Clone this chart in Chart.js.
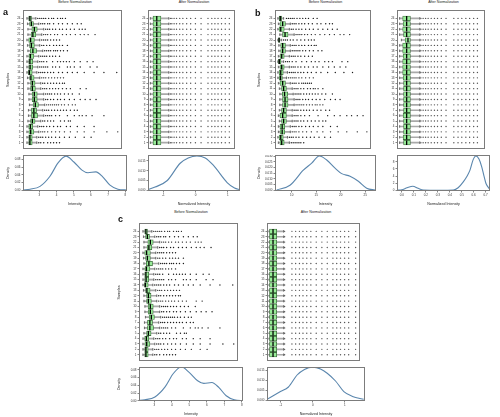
<!DOCTYPE html>
<html>
<head>
<meta charset="utf-8">
<script src="https://cdn.jsdelivr.net/npm/chart.js@4.4.1/dist/chart.umd.min.js"></script>
<style>
  body { margin: 0; width: 500px; height: 417px; background: #fff; position: relative; overflow: hidden; font-family: "Liberation Sans", Arial, sans-serif; }
  canvas { position: absolute; }
  .ttl { position: absolute; font-size: 3.6px; line-height: 4px; text-align: center; color: #222; white-space: nowrap; }
  .tag { position: absolute; font-size: 9px; line-height: 9px; font-weight: bold; color: #111; }
</style>
</head>
<body>
<script>
// ---- data ----
const samples = [1, 2, 3, 4, 5, 6, 7, 8, 9, 10, 11, 12, 13, 14, 15, 16, 17, 18, 19, 20, 21, 22, 23, 24];

// Panel a / c, before normalization (box x axis in % of panel width)
const aBeforeQ1  = [5.8, 5.8, 6, 5.8, 7.7, 8.6, 8.6, 10.3, 9.3, 9.3, 7.7, 7.7, 6.7, 5.5, 5.8, 5.8, 6, 7.4, 6.7, 5.8, 8.3, 9, 6.7, 5.8];
const aBeforeMed = [7, 7, 7.8, 7.5, 9.5, 11, 11, 12.5, 11.5, 11.5, 9.5, 9.5, 8, 6.5, 7.2, 7, 7.5, 10, 8.5, 7.7, 10, 11.5, 8.5, 7];
const aBeforeQ3  = [9.3, 9.3, 11, 9.9, 12.2, 14.7, 13.7, 15.6, 14.4, 14.4, 12.5, 12.2, 11.2, 9.3, 9.9, 9.9, 11, 13.7, 11.5, 11.5, 13, 14.4, 10.6, 8.6];
const aBeforeLo  = [4, 4, 4, 4, 5, 5.5, 5.5, 6.5, 6, 6, 5, 5, 4.5, 4, 4, 4, 4, 5, 4.5, 4, 5, 5, 4.5, 4];
const aBeforeHi  = [14, 14, 16, 15, 18, 21, 20, 22, 21, 21, 18, 18, 17, 14, 15, 15, 16, 20, 17, 17, 19, 21, 16, 13];
const aBeforeOut = [
  [16, 18, 21, 25, 28, 31, 34, 37],
  [16, 18, 20, 23, 26, 29, 33, 37, 42, 47, 53, 62, 69],
  [18, 20, 22, 25, 29, 33, 37, 42, 48, 55, 62, 72, 85, 96],
  [17, 19, 21, 24, 27, 31, 35, 38, 44, 48, 55, 62, 72],
  [20, 22, 25, 28, 31, 38, 42, 46, 48],
  [23, 25, 27, 29, 33, 37, 45, 52, 57, 60, 64, 70, 82],
  [22, 24, 26, 29, 32, 35, 38, 41, 44, 48, 52, 55],
  [24, 26, 28, 30, 32, 34, 36, 39, 42, 46, 50, 53],
  [23, 25, 28, 31, 35, 38, 42, 47, 52, 58, 63, 68, 74],
  [23, 25, 27, 29, 32, 35, 38, 42, 46, 50, 57],
  [20, 22, 24, 27, 30, 33, 36, 40, 44, 48, 58, 64],
  [20, 22, 25, 28, 31, 34, 37, 40, 42],
  [19, 21, 23, 26, 29, 32, 35, 38, 41],
  [16, 18, 20, 22, 25, 28, 31, 36, 40, 45, 50, 55, 62, 72, 82, 95],
  [17, 19, 21, 23, 25, 30, 33, 37, 45, 48, 52, 58, 68, 75],
  [17, 19, 21, 24, 30, 35, 38, 41, 44, 47, 52, 58, 65, 71],
  [18, 20, 22, 24, 27, 30, 33, 37],
  [22, 24, 26, 28, 31, 33, 35, 38, 41, 45],
  [19, 21, 24, 27, 31, 34, 37, 40, 45],
  [19, 21, 23, 25, 28, 31, 34, 37],
  [21, 23, 25, 28, 32, 35, 40, 44, 48, 53, 58, 62, 66, 73],
  [23, 25, 27, 30, 33, 37, 40, 44, 48, 52, 57, 60, 63],
  [18, 20, 22, 25, 27, 31, 36, 40, 45, 50, 55, 59],
  [15, 17, 19, 21, 23, 26, 29, 31, 35, 38, 40, 43]
];

// Panel b, before normalization
const bBeforeQ1  = [5.2, 4.3, 5.2, 5.2, 6.9, 5.2, 6.9, 7.9, 7.9, 7.6, 6.9, 5.2, 4.3, 4.3, 5.2, 3.6, 5.2, 6, 6, 3.6, 7.9, 4.3, 5.2, 4.3];
const bBeforeMed = [7, 6, 7.5, 7.5, 9, 8, 9, 10.5, 10.5, 10, 9, 8, 5.8, 6, 7, 4.5, 7, 8, 8, 4.3, 10.5, 6, 8, 5.5];
const bBeforeQ3  = [9.6, 8.6, 10.2, 10.2, 11.9, 11.9, 11.9, 13.6, 13.6, 13.3, 11.9, 10.9, 7.7, 8.6, 9.6, 6.2, 9.6, 10.9, 10.9, 5.2, 13.6, 9.6, 10.9, 6.9];
const bBeforeLo  = [3.5, 3, 3.5, 3.5, 4.5, 3.5, 4.5, 5, 5, 5, 4.5, 3.5, 3, 3, 3.5, 3, 3.5, 4, 4, 3, 5, 3, 3.5, 3];
const bBeforeHi  = [15, 13, 16, 16, 18, 18, 18, 20, 20, 19, 18, 16, 12, 13, 15, 9, 15, 16, 16, 7, 20, 15, 16, 9];
const bBeforeOut = [
  [17, 19, 21, 23, 25, 27, 30],
  [15, 17, 19, 22, 25, 29, 33, 37, 41, 46, 52, 58],
  [18, 20, 22, 25, 29, 33, 38, 44, 50, 58, 66, 75, 86, 96],
  [18, 20, 22, 25, 28, 32, 36, 40, 45, 50, 58, 65],
  [20, 22, 24, 27, 30, 34, 38, 42, 46, 50, 53],
  [20, 22, 24, 27, 31, 36, 45, 55, 62, 68, 75, 80, 86, 92],
  [20, 22, 24, 27, 30, 33, 36, 40, 44, 48, 53, 57],
  [22, 24, 26, 28, 30, 33, 36, 39, 42, 44, 47, 50],
  [22, 24, 26, 29, 32, 35, 39, 43, 47, 52, 58, 63, 68],
  [21, 23, 25, 27, 30, 33, 36, 39, 42, 45, 49, 53, 60],
  [20, 22, 24, 27, 30, 34, 37, 40, 42, 45, 50],
  [18, 20, 22, 25, 28, 30, 32, 34, 36, 38],
  [14, 16, 18, 20, 22, 25, 28, 32, 36, 40],
  [15, 17, 19, 21, 24, 27, 30, 34, 38, 43, 48, 55, 63, 72, 81],
  [17, 19, 21, 24, 27, 31, 35, 40, 44, 50, 56, 62, 68, 74],
  [11, 13, 15, 18, 22, 28, 33, 38, 42, 46, 52, 56, 60, 70, 76],
  [17, 19, 21, 24, 27, 31, 35, 39],
  [18, 20, 22, 24, 26, 29, 32, 36, 40, 45, 49],
  [18, 20, 22, 25, 28, 31, 35, 38, 41, 43],
  [9, 11, 13, 16, 19, 23, 27, 31, 35, 38, 41],
  [22, 24, 26, 28, 31, 34, 38, 42, 47, 52, 57, 62, 68, 72, 78],
  [17, 19, 22, 25, 28, 32, 36, 40, 45, 50, 55, 60, 65],
  [18, 20, 22, 25, 28, 31, 35, 39, 44, 48, 53, 57, 60],
  [12, 14, 16, 18, 20, 23, 26, 29, 32, 35, 40, 44]
];

// After normalization boxes (every sample looks alike)
const aAfterQ1  = [5.8, 5.8, 5.8, 5.8, 5.8, 5.8, 5.8, 5.8, 5.8, 5.8, 5.8, 5.8, 5.8, 5.8, 5.8, 5.8, 5.8, 5.8, 5.8, 5.8, 5.8, 5.8, 5.8, 5.8];
const aAfterMed = [10.1, 10.1, 10.1, 10.1, 10.1, 10.1, 10.1, 10.1, 10.1, 10.1, 10.1, 10.1, 10.1, 10.1, 10.1, 10.1, 10.1, 10.1, 10.1, 10.1, 10.1, 10.1, 10.1, 10.1];
const aAfterQ3  = [14.9, 14.9, 14.9, 14.9, 14.9, 14.9, 14.9, 14.9, 14.9, 14.9, 14.9, 14.9, 14.9, 14.9, 14.9, 14.9, 14.9, 14.9, 14.9, 14.9, 14.9, 14.9, 14.9, 14.9];
const aAfterLo  = [2.7, 2.7, 2.7, 2.7, 2.7, 2.7, 2.7, 2.7, 2.7, 2.7, 2.7, 2.7, 2.7, 2.7, 2.7, 2.7, 2.7, 2.7, 2.7, 2.7, 2.7, 2.7, 2.7, 2.7];
const aAfterHi  = [24, 24, 24, 24, 24, 24, 24, 24, 24, 24, 24, 24, 24, 24, 24, 24, 24, 24, 24, 24, 24, 24, 24, 24];
const aAfterCols = [25.8, 27.5, 30.1, 32.9, 36.6, 40.2, 44.6, 49.2, 54.7, 61.2, 69.2, 73.6, 77.2, 80.8, 84.8, 89.1, 93.8];

const bAfterQ1  = [7.5, 7, 7.5, 7.5, 7.5, 7, 7.5, 7.5, 7.5, 7.5, 7.5, 7.5, 7, 6.5, 6.5, 6.5, 7, 6.5, 6.5, 9.3, 7.5, 6.5, 7, 6.5];
const bAfterMed = [11, 11, 11, 11, 11, 11, 11, 11, 11, 11, 11, 11, 11, 11, 11, 11, 11, 11, 11, 12.5, 11, 11, 11, 11];
const bAfterQ3  = [15.3, 15.3, 15.3, 15.3, 15.3, 15.3, 15.3, 15.3, 15.3, 15.3, 15.3, 15.3, 15.3, 15.3, 15.3, 15.3, 15.3, 15.3, 15.3, 15.3, 15.3, 15.3, 15.3, 15.3];
const bAfterLo  = [3, 3, 3, 3, 3, 3, 3, 3, 3, 3, 3, 3, 3, 3, 3, 3, 3, 3, 3, 5, 3, 3, 3, 3];
const bAfterHi  = [26, 26, 26, 26, 26, 26, 26, 26, 26, 26, 26, 26, 26, 26, 26, 26, 26, 26, 26, 26, 26, 26, 26, 26];
const bAfterCols = [27.2, 29.8, 32.6, 35.5, 39, 42.7, 46.2, 50.5, 55.9, 64.8, 69.6, 73.9, 78.5, 82.8, 87.4, 91.7];

const cAfterQ1  = [2.7, 2.7, 2.7, 2.7, 2.7, 2.7, 2.7, 2.7, 2.7, 2.7, 2.7, 2.7, 2.7, 2.7, 2.7, 2.7, 2.7, 2.7, 2.7, 2.7, 2.7, 2.7, 2.7, 2.7];
const cAfterMed = [6.5, 6.5, 6.5, 6.5, 6.5, 6.5, 6.5, 6.5, 6.5, 6.5, 6.5, 6.5, 6.5, 6.5, 6.5, 6.5, 6.5, 6.5, 6.5, 6.5, 6.5, 6.5, 6.5, 6.5];
const cAfterQ3  = [10.5, 10.5, 10.5, 10.5, 10.5, 10.5, 10.5, 10.5, 10.5, 10.5, 10.5, 10.5, 10.5, 10.5, 10.5, 10.5, 10.5, 10.5, 10.5, 10.5, 10.5, 10.5, 10.5, 10.5];
const cAfterLo  = [0.4, 0.4, 0.4, 0.4, 0.4, 0.4, 0.4, 0.4, 0.4, 0.4, 0.4, 0.4, 0.4, 0.4, 0.4, 0.4, 0.4, 0.4, 0.4, 0.4, 0.4, 0.4, 0.4, 0.4];
const cAfterHi  = [18, 18, 18, 18, 18, 18, 18, 18, 18, 18, 18, 18, 18, 18, 18, 18, 18, 18, 18, 18, 18, 18, 18, 18];
const cAfterCols = [19, 26.9, 30.9, 35, 38.8, 42.9, 47.3, 53.1, 59.2, 65, 71.1, 75.2, 79.3, 83.7, 88.1, 95.6];

// Density curves
const aDensX = [2.05, 2.46, 3.04, 3.62, 4.08, 4.55, 5.01, 5.48, 5.83, 6.29, 6.70, 7.11, 7.57, 8.1];
const aDensY = [0.0005, 0.0026, 0.010, 0.036, 0.070, 0.088, 0.073, 0.052, 0.045, 0.0475, 0.034, 0.013, 0.0026, 0.0005];
const aDensXTicks = [3, 4, 5, 6, 7, 8];
const aDensYTicks = [0, 0.02, 0.04, 0.06, 0.08];

const aNormX = [-1.48, -1.26, -0.89, -0.48, -0.23, 0.04, 0.30, 0.55, 0.98, 1.21, 1.38];
const aNormY = [0.0004, 0.0017, 0.0049, 0.0138, 0.0165, 0.0175, 0.0165, 0.0128, 0.0040, 0.0012, 0.0003];
const normXTicks = [-1, 0, 1];
const normYTicks = [0, 0.005, 0.010, 0.015];

const bDensX = [6.94, 9.65, 12.37, 14.08, 15.63, 17.14, 18.84, 20.2, 21.9, 23.6, 25.3, 27.0];
const bDensY = [0.0003, 0.0044, 0.0176, 0.0238, 0.0300, 0.0265, 0.0194, 0.0146, 0.0123, 0.0079, 0.0018, 0.0002];
const bDensXTicks = [10, 15, 20, 25];
const bDensYTicks = [0, 0.005, 0.010, 0.015, 0.020, 0.025, 0.030];

const bNormX = [-0.04, 0, 0.044, 0.092, 0.136, 0.18, 0.32, 0.43, 0.47, 0.513, 0.544, 0.569, 0.594, 0.619, 0.644, 0.667, 0.686, 0.7025, 0.736];
const bNormY = [0.0, 0.14, 0.7, 1.13, 0.56, 0.08, 0.03, 0.08, 0.7, 2.34, 3.95, 5.65, 8.47, 9.6, 8.76, 6.58, 3.95, 1.9, 0.2];
const bNormXTicks = [0, 0.1, 0.2, 0.3, 0.4, 0.5, 0.6, 0.7];
const bNormYTicks = [0, 2, 4, 6, 8];

const cNormX = [-1.43, -1.01, -0.76, -0.49, -0.26, 0, 0.24, 0.45, 0.71, 0.97, 1.24, 1.59];
const cNormY = [0.00035, 0.0042, 0.0065, 0.0125, 0.0153, 0.0164, 0.0155, 0.0134, 0.0095, 0.0042, 0.0018, 0.00035];

// ---- drawing ----
Chart.defaults.font.family = '"Liberation Sans", Arial, sans-serif';
Chart.defaults.color = '#333';
const XH = 16;

const framePlugin = {
  id: 'frame',
  afterDraw(chart) {
    const { ctx, chartArea: a } = chart;
    ctx.save();
    ctx.strokeStyle = '#7c7c7c';
    ctx.lineWidth = 1;
    ctx.strokeRect(Math.round(a.left) + 0.5, Math.round(a.top) + 0.5, Math.round(a.width) - 1, Math.round(a.height) - 1);
    ctx.restore();
  }
};

function addCanvas(x, y, w, h) {
  const c = document.createElement('canvas');
  c.width = w; c.height = h;
  c.style.left = x + 'px'; c.style.top = y + 'px';
  c.style.width = w + 'px'; c.style.height = h + 'px';
  document.body.appendChild(c);
  return c;
}

function addText(cls, text, x, y, w) {
  const d = document.createElement('div');
  d.className = cls;
  d.textContent = text;
  d.style.left = x + 'px'; d.style.top = y + 'px';
  if (w) d.style.width = w + 'px';
  document.body.appendChild(d);
}

function fixedTicks(list) {
  return s => { s.ticks = list.map(v => ({ value: v })); };
}

function boxChart(p) {
  const b = p.box;
  const w = p.right - p.left;
  const cv = addCanvas(p.left - p.lw, p.top, p.lw + w, p.mid - p.top);
  const outPts = [];
  samples.forEach((s, i) => (b.cols || b.out[i]).forEach(v => outPts.push({ x: v, y: s })));
  new Chart(cv, {
    type: 'bar',
    data: {
      datasets: [
        { type: 'scatter', data: outPts, pointRadius: 0.7, pointBackgroundColor: b.cols ? '#555' : '#1a1a1a', pointBorderWidth: 0, order: 5 },
        { type: 'bar', indexAxis: 'y', grouped: false, barThickness: 1, backgroundColor: '#a9a9a9',
          data: samples.map((s, i) => ({ y: s, x: [b.lo[i], b.hi[i]] })), order: 4 },
        { type: 'scatter', pointStyle: 'line', rotation: 90, pointRadius: 1.3, pointBorderColor: '#555', pointBorderWidth: 0.8,
          data: samples.flatMap((s, i) => [{ x: b.lo[i], y: s }, { x: b.hi[i], y: s }]), order: 3 },
        { type: 'bar', indexAxis: 'y', grouped: false, barThickness: 4.6, backgroundColor: '#98ec98',
          borderColor: '#3e6e3e', borderWidth: 0.8, borderSkipped: false,
          data: samples.map((s, i) => ({ y: s, x: [b.q1[i], b.q3[i]] })), order: 2 },
        { type: 'scatter', pointStyle: 'line', rotation: 90, pointRadius: 2.3, pointBorderColor: '#000', pointBorderWidth: 1.3,
          data: samples.map((s, i) => ({ x: b.med[i], y: s })), order: 1 }
      ]
    },
    options: {
      indexAxis: 'y',
      responsive: false,
      animation: false,
      layout: { padding: 0 },
      plugins: { legend: { display: false }, tooltip: { enabled: false } },
      scales: {
        x: { type: 'linear', min: 0, max: 100, display: false, offset: false },
        y: {
          type: 'linear', min: -0.3, max: 25.5, offset: false, bounds: 'data',
          afterBuildTicks: fixedTicks(samples),
          afterFit: s => { s.width = p.lw; s.paddingTop = 0; s.paddingBottom = 0; },
          ticks: { font: { size: 3 }, padding: 1, autoSkip: false, color: '#333' },
          grid: { drawOnChartArea: false, offset: false, tickLength: 1.5, color: '#888' },
          border: { display: false },
          title: { display: p.yTitle, text: 'Samples', font: { size: 3.6 }, padding: { top: 0, bottom: 0 }, color: '#222' }
        }
      }
    },
    plugins: [framePlugin]
  });
}

function densityChart(p) {
  const d = p.dens;
  const w = p.right - p.left;
  const cv = addCanvas(p.left - p.lw, p.mid, p.lw + w, p.bottom - p.mid + XH);
  new Chart(cv, {
    type: 'line',
    data: {
      datasets: [{
        data: d.x.map((v, i) => ({ x: v, y: d.y[i] })),
        borderColor: '#5a86ad', borderWidth: 1.1, pointRadius: 0, cubicInterpolationMode: 'monotone', fill: false
      }]
    },
    options: {
      responsive: false,
      animation: false,
      layout: { padding: 0 },
      plugins: { legend: { display: false }, tooltip: { enabled: false } },
      scales: {
        x: {
          type: 'linear', min: d.xMin, max: d.xMax, bounds: 'data',
          afterBuildTicks: fixedTicks(d.xTicks),
          afterFit: s => { s.height = XH; s.paddingLeft = 0; s.paddingRight = 0; },
          ticks: { font: { size: 3 }, padding: 1, autoSkip: false, maxRotation: 0, callback: v => v.toFixed(d.xDec) },
          grid: { drawOnChartArea: false, tickLength: 1.5, color: '#888' },
          border: { display: false },
          title: { display: true, text: p.xTitle, font: { size: 3.6 }, padding: { top: 0, bottom: 1 }, color: '#222' }
        },
        y: {
          type: 'linear', min: d.yMin, max: d.yMax, bounds: 'data',
          afterBuildTicks: fixedTicks(d.yTicks),
          afterFit: s => { s.width = p.lw; s.paddingTop = 0; s.paddingBottom = 0; },
          ticks: { font: { size: 3 }, padding: 1, autoSkip: false, callback: v => v.toFixed(d.yDec) },
          grid: { drawOnChartArea: false, tickLength: 1.5, color: '#888' },
          border: { display: false },
          title: { display: p.yTitle, text: 'Density', font: { size: 3.6 }, padding: { top: 0, bottom: 0 }, color: '#222' }
        }
      }
    },
    plugins: [framePlugin]
  });
}

const boxABefore = { q1: aBeforeQ1, med: aBeforeMed, q3: aBeforeQ3, lo: aBeforeLo, hi: aBeforeHi, out: aBeforeOut };
const boxBBefore = { q1: bBeforeQ1, med: bBeforeMed, q3: bBeforeQ3, lo: bBeforeLo, hi: bBeforeHi, out: bBeforeOut };
const boxAAfter = { q1: aAfterQ1, med: aAfterMed, q3: aAfterQ3, lo: aAfterLo, hi: aAfterHi, cols: aAfterCols };
const boxBAfter = { q1: bAfterQ1, med: bAfterMed, q3: bAfterQ3, lo: bAfterLo, hi: bAfterHi, cols: bAfterCols };
const boxCAfter = { q1: cAfterQ1, med: cAfterMed, q3: cAfterQ3, lo: cAfterLo, hi: cAfterHi, cols: cAfterCols };

const panels = [
  { left: 23, right: 127, top: 5, mid: 155, bottom: 191, lw: 17, yTitle: true, title: 'Before Normalization', xTitle: 'Intensity', titleY: 0,
    box: boxABefore,
    dens: { x: aDensX, y: aDensY, xMin: 2.05, xMax: 8.1, yMin: -0.002, yMax: 0.091, xTicks: aDensXTicks, yTicks: aDensYTicks, xDec: 0, yDec: 2 } },
  { left: 148, right: 240, top: 5, mid: 155, bottom: 191, lw: 12, yTitle: false, title: 'After Normalization', xTitle: 'Normalized Intensity', titleY: 0,
    box: boxAAfter,
    dens: { x: aNormX, y: aNormY, xMin: -1.48, xMax: 1.38, yMin: -0.0003, yMax: 0.018, xTicks: normXTicks, yTicks: normYTicks, xDec: 0, yDec: 3 } },
  { left: 275, right: 376, top: 5, mid: 155, bottom: 191, lw: 18, yTitle: true, title: 'Before Normalization', xTitle: 'Intensity', titleY: 0,
    box: boxBBefore,
    dens: { x: bDensX, y: bDensY, xMin: 6.59, xMax: 27.2, yMin: -0.0006, yMax: 0.0309, xTicks: bDensXTicks, yTicks: bDensYTicks, xDec: 0, yDec: 3 } },
  { left: 397, right: 490, top: 5, mid: 155, bottom: 191, lw: 12, yTitle: false, title: 'After Normalization', xTitle: 'Normalized Intensity', titleY: 0,
    box: boxBAfter,
    dens: { x: bNormX, y: bNormY, xMin: -0.04, xMax: 0.736, yMin: -0.2, yMax: 9.9, xTicks: bNormXTicks, yTicks: bNormYTicks, xDec: 1, yDec: 0 } },
  { left: 139, right: 243, top: 218, mid: 367, bottom: 401, lw: 22, yTitle: true, title: 'Before Normalization', xTitle: 'Intensity', titleY: 210,
    box: boxABefore,
    dens: { x: aDensX, y: aDensY, xMin: 2.13, xMax: 8.07, yMin: -0.0005, yMax: 0.0875, xTicks: aDensXTicks, yTicks: aDensYTicks, xDec: 0, yDec: 2 } },
  { left: 267, right: 365, top: 218, mid: 367, bottom: 401, lw: 12, yTitle: false, title: 'After Normalization', xTitle: 'Normalized Intensity', titleY: 210,
    box: boxCAfter,
    dens: { x: cNormX, y: cNormY, xMin: -1.43, xMax: 1.63, yMin: -0.0005, yMax: 0.0165, xTicks: normXTicks, yTicks: normYTicks, xDec: 0, yDec: 3 } }
];

panels.forEach(p => {
  boxChart(p);
  densityChart(p);
  addText('ttl', p.title, p.left, p.titleY, p.right - p.left);
});

addText('tag', 'a', 3, 8);
addText('tag', 'b', 255, 9);
addText('tag', 'c', 118, 215);
</script>
</body>
</html>
